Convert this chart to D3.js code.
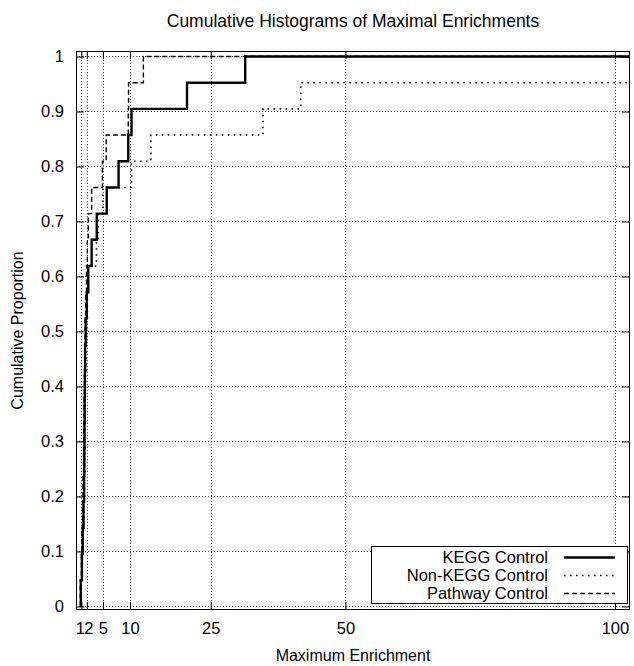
<!DOCTYPE html>
<html>
<head>
<meta charset="utf-8">
<script src="https://cdn.jsdelivr.net/npm/d3@7"></script>
<style>
  body { margin: 0; background: #fff; }
  text { font-family: "Liberation Sans", Arial, sans-serif; fill: #000; }
</style>
</head>
<body>
<div id="chart"></div>
<script>
// sorted maximal enrichment of the 21 items in each group
const keggValues = [0.9, 1.1, 1.25, 1.4, 1.5, 1.55, 1.58, 1.6, 1.65, 1.7, 1.8, 2.0, 2.28,
    2.9, 3.85, 5.7, 7.9, 9.7, 10.3, 20.6, 31.4];
const nonKeggValues = [0.95, 1.15, 1.3, 1.45, 1.55, 1.6, 1.65, 1.7, 1.75, 1.85, 1.95, 2.1, 2.2,
    3.8, 4.1, 4.95, 10.3, 13.9, 34.7, 41.7, 150];
const pathwayValues = [0.8, 1.0, 1.1, 1.2, 1.3, 1.4, 1.45, 1.5, 1.55, 1.6, 1.7, 1.8, 1.95,
    2.1, 2.28, 2.9, 4.9, 5.6, 9.7, 9.75, 12.5];

const seriesNames = ["KEGG Control", "Non-KEGG Control", "Pathway Control"];
const xTicks = [1, 2, 5, 10, 25, 50, 100];
const yTicks = [0, 0.1, 0.2, 0.3, 0.4, 0.5, 0.6, 0.7, 0.8, 0.9, 1];

const width = 634, height = 666;
const margin = { top: 51, right: 4, bottom: 56, left: 76 };
const innerW = width - margin.left - margin.right;
const innerH = height - margin.top - margin.bottom;

const svg = d3.select("#chart").append("svg")
    .attr("width", width)
    .attr("height", height);

const x = d3.scaleLinear().domain([0, 102.8]).range([margin.left, margin.left + innerW]);
const y = d3.scaleLinear().domain([-0.0065, 1.01]).range([margin.top + innerH, margin.top]);

const styles = [
    { width: 2.4, dash: null },
    { width: 1.6, dash: "1.6,4.4" },
    { width: 1.4, dash: "5,3" }
];

// grid
const grid = svg.append("g").attr("stroke", "#444").attr("stroke-width", 1)
    .attr("stroke-dasharray", "1,2");
grid.selectAll(".gx").data(xTicks).enter().append("line")
    .attr("x1", d => Math.round(x(d)) + 0.5).attr("x2", d => Math.round(x(d)) + 0.5)
    .attr("y1", y.range()[1]).attr("y2", y.range()[0]);
grid.selectAll(".gy").data(yTicks).enter().append("line")
    .attr("y1", d => Math.round(y(d)) + 0.5).attr("y2", d => Math.round(y(d)) + 0.5)
    .attr("x1", x.range()[0]).attr("x2", x.range()[1]);

// axes with mirrored inward ticks
const tickLen = 8;
svg.append("g")
    .attr("class", "x-bottom")
    .attr("transform", `translate(0, ${y.range()[0]})`)
    .call(d3.axisBottom(x).tickValues(xTicks).tickSizeInner(-tickLen).tickSizeOuter(0).tickPadding(12))
    .call(g => g.select(".domain").remove());
svg.append("g")
    .attr("transform", `translate(0, ${y.range()[1]})`)
    .call(d3.axisTop(x).tickValues(xTicks).tickSizeInner(-tickLen).tickSizeOuter(0).tickFormat(""))
    .call(g => g.select(".domain").remove());
svg.append("g")
    .attr("transform", `translate(${x.range()[0]}, 0)`)
    .call(d3.axisLeft(y).tickValues(yTicks).tickSizeInner(-tickLen).tickSizeOuter(0).tickPadding(12)
        .tickFormat(d3.format("~g")))
    .call(g => g.select(".domain").remove());
svg.append("g")
    .attr("transform", `translate(${x.range()[1]}, 0)`)
    .call(d3.axisRight(y).tickValues(yTicks).tickSizeInner(-tickLen).tickSizeOuter(0).tickFormat(""))
    .call(g => g.select(".domain").remove());

svg.selectAll(".tick line").attr("stroke", "#000");
svg.selectAll(".tick text").style("font-size", "16.5px")
    .style("font-family", "'Liberation Sans', Arial, sans-serif");

// "1" and "2" sit very close: push them apart like the original
svg.selectAll(".x-bottom .tick text")
    .attr("text-anchor", d => d === 1 ? "end" : d === 2 ? "start" : "middle")
    .attr("dx", d => d === 1 ? "3px" : d === 2 ? "-3px" : 0);

// clip to plot area
svg.append("clipPath").attr("id", "plot-clip").append("rect")
    .attr("x", x.range()[0]).attr("y", y.range()[1])
    .attr("width", innerW).attr("height", innerH);

// cumulative step curves
function cumulative(values) {
    const n = values.length;
    const pts = [[values[0], 0]];
    values.forEach((v, i) => pts.push([v, (i + 1) / n]));
    pts.push([x.domain()[1] + 10, 1]);
    return pts;
}
const line = d3.line().x(d => x(d[0])).y(d => y(d[1])).curve(d3.curveStepAfter);

const allSeries = [keggValues, nonKeggValues, pathwayValues];
const plot = svg.append("g").attr("clip-path", "url(#plot-clip)");
allSeries.forEach((vals, i) => {
    plot.append("path")
        .datum(cumulative(vals))
        .attr("fill", "none")
        .attr("stroke", "#000")
        .attr("stroke-width", styles[i].width)
        .attr("stroke-dasharray", styles[i].dash)
        .attr("d", line);
});

// frame
svg.append("rect")
    .attr("x", x.range()[0] + 0.5).attr("y", y.range()[1] + 0.5)
    .attr("width", innerW - 1).attr("height", innerH - 1)
    .attr("fill", "none").attr("stroke", "#000").attr("stroke-width", 1);

// legend
const legend = svg.append("g").attr("transform", "translate(371, 546)");
legend.append("rect")
    .attr("x", 0.5).attr("y", 0.5).attr("width", 256).attr("height", 57)
    .attr("fill", "#fff").attr("stroke", "#000");
seriesNames.forEach((name, i) => {
    const cy = 11 + i * 18;
    legend.append("text")
        .attr("x", 177).attr("y", cy).attr("dy", "0.35em")
        .attr("text-anchor", "end")
        .style("font-size", "16.5px")
        .text(name);
    legend.append("line")
        .attr("x1", 193).attr("x2", 244)
        .attr("y1", cy + 0.5).attr("y2", cy + 0.5)
        .attr("stroke", "#000")
        .attr("stroke-width", styles[i].width)
        .attr("stroke-dasharray", styles[i].dash);
});

// titles
svg.append("text")
    .attr("x", (x.range()[0] + x.range()[1]) / 2).attr("y", 27)
    .attr("text-anchor", "middle")
    .style("font-size", "17.5px")
    .text("Cumulative Histograms of Maximal Enrichments");
svg.append("text")
    .attr("x", (x.range()[0] + x.range()[1]) / 2).attr("y", 661)
    .attr("text-anchor", "middle")
    .style("font-size", "16px")
    .text("Maximum Enrichment");
svg.append("text")
    .attr("transform", `translate(23, ${(y.range()[0] + y.range()[1]) / 2}) rotate(-90)`)
    .attr("text-anchor", "middle")
    .style("font-size", "16px")
    .text("Cumulative Proportion");
</script>
</body>
</html>
